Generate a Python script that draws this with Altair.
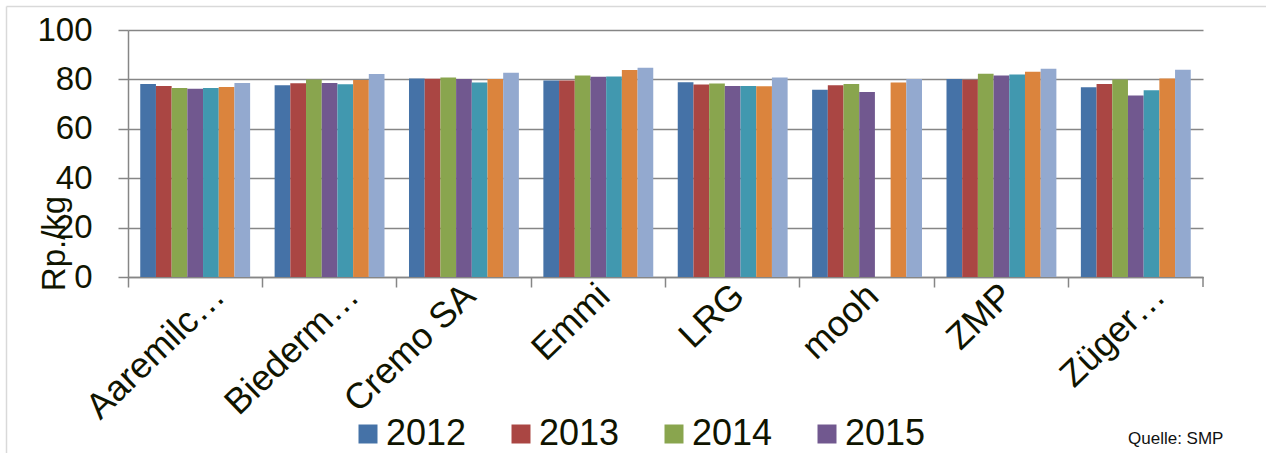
import altair as alt
import pandas as pd

categories = ["Aaremilc…", "Biederm…", "Cremo SA", "Emmi", "LRG", "mooh", "ZMP", "Züger…"]
years = ["2012", "2013", "2014", "2015", "2016", "2017", "2018"]
colors = ["#4572A7", "#AA4643", "#89A54E", "#71588F", "#4198AF", "#DB843D", "#93A9CF"]

# values per category, one per year (None = no bar)
v_aaremilch = [78.1, 77.3, 76.5, 76.2, 76.5, 76.9, 78.5]
v_biedermann = [77.6, 78.4, 80.0, 78.5, 78.0, 79.8, 82.2]
v_cremo = [80.4, 80.3, 80.8, 80.2, 78.7, 80.2, 82.7]
v_emmi = [79.6, 79.6, 81.6, 81.1, 81.2, 83.8, 84.7]
v_lrg = [78.8, 77.9, 78.3, 77.3, 77.3, 77.2, 80.8]
v_mooh = [75.8, 77.6, 78.1, 74.9, None, 78.7, 80.2]
v_zmp = [80.2, 79.9, 82.3, 81.6, 82.0, 83.1, 84.3]
v_zueger = [76.8, 78.1, 80.0, 73.5, 75.6, 80.4, 83.9]

all_values = [v_aaremilch, v_biedermann, v_cremo, v_emmi, v_lrg, v_mooh, v_zmp, v_zueger]
legend_years = ["2012", "2013", "2014", "2015"]
y_ticks = [0, 20, 40, 60, 80, 100]

rows = []
for cat, vals in zip(categories, all_values):
    for yr, v in zip(years, vals):
        if v is not None:
            rows.append({"Firma": cat, "Jahr": yr, "Wert": v})
df = pd.DataFrame(rows)

W, H = 1075, 247
GRAY = "#868686"
TXT = "#101400"
FONT = "Liberation Sans"

bars = alt.Chart(df).mark_bar().encode(
    x=alt.X("Firma:N", sort=categories,
            scale=alt.Scale(paddingInner=0, paddingOuter=0),
            axis=alt.Axis(title=None, labelAngle=-44, labelAlign="right",
                          labelBaseline="middle", labelFontSize=36, labelFont=FONT,
                          labelColor=TXT, bandPosition=0,
                          labelOffset={"expr": "indexof(datum.label, '…') >= 0 ? 24 : 6"},
                          tickSize=10, tickColor=GRAY, tickWidth=1.5,
                          domainColor=GRAY, domainWidth=1.5, labelPadding=3,
                          labelLimit=500, grid=False)),
    xOffset=alt.XOffset("Jahr:N", sort=years,
                        scale=alt.Scale(paddingInner=0, paddingOuter=0.78)),
    y=alt.Y("Wert:Q", scale=alt.Scale(domain=[0, 100], nice=False),
            axis=alt.Axis(values=y_ticks, title="Rp./kg", tickSize=10, tickColor=GRAY,
                          tickWidth=1.5, domainColor=GRAY, domainWidth=1.5,
                          gridColor=GRAY, gridWidth=1.5, labelPadding=26,
                          labelFontSize=33, labelFont=FONT, labelColor=TXT,
                          titleFontSize=33, titleFont=FONT, titleFontWeight="normal",
                          titleColor=TXT, titleAngle=270, titleX=-64, titleY=213,
                          titleAlign="center", titleBaseline="alphabetic")),
    color=alt.Color("Jahr:N", sort=years,
                    scale=alt.Scale(domain=years, range=colors),
                    legend=alt.Legend(title=None, orient="none", legendX=222, legendY=386,
                                      direction="horizontal", columns=4,
                                      values=legend_years, symbolType="square",
                                      symbolSize=361, symbolStrokeWidth=0,
                                      labelFontSize=36, labelFont=FONT, labelColor=TXT,
                                      labelOffset=0, columnPadding=36, padding=0)),
)

one = pd.DataFrame({"a": [0]})

last_tick = alt.Chart(one).mark_rule(color=GRAY, strokeWidth=1.5).encode(
    x=alt.value(W), y=alt.value(H), y2=alt.value(H + 10))

frame_top = alt.Chart(one).mark_rule(color="#d9d9d9", strokeWidth=1.5).encode(
    x=alt.value(-121.5), x2=alt.value(1266 - 128), y=alt.value(-23.5))
frame_left = alt.Chart(one).mark_rule(color="#d9d9d9", strokeWidth=1.5).encode(
    x=alt.value(-121.5), y=alt.value(-23.5), y2=alt.value(453 - 30))

source = alt.Chart(one).mark_text(text="Quelle: SMP", font=FONT, fontSize=17,
                                  color="#111111", align="left",
                                  baseline="alphabetic").encode(
    x=alt.value(1000), y=alt.value(414))

chart = alt.layer(frame_top, frame_left, bars, last_tick, source).properties(
    width=W, height=H,
    autosize=alt.AutoSizeParams(type="none"),
    padding={"left": 128, "top": 30, "right": 63, "bottom": 176},
).configure_view(stroke=None)

chart.save("out.html", embed_options={"renderer": "svg", "actions": False})
